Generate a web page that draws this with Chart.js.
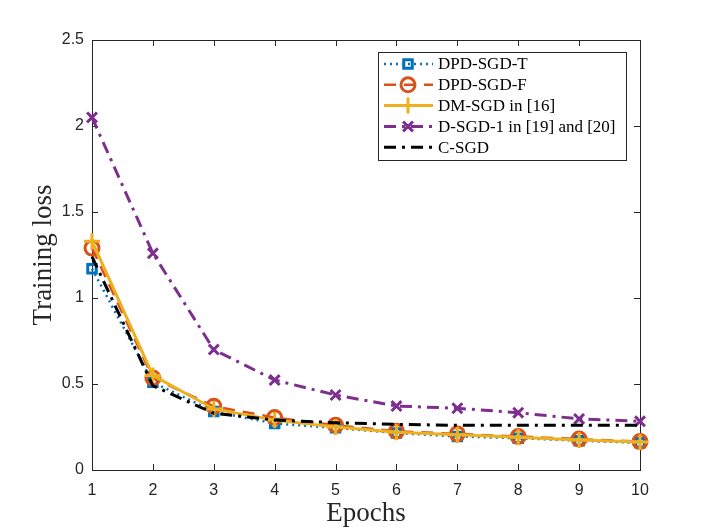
<!DOCTYPE html>
<html lang="en">
<head>
    <meta charset="UTF-8">
    <title>Training loss vs Epochs</title>
    <script src="https://cdn.jsdelivr.net/npm/chart.js"></script>
    <style>
        body {
            margin: 0;
            background: #fff;
        }
        canvas {
            display: block;
        }
    </style>
</head>
<body>
    <canvas id="chart" width="706" height="530"></canvas>
    <script>
        // data
        const epochs = [1, 2, 3, 4, 5, 6, 7, 8, 9, 10];
        const dpdT = [1.17, 0.51, 0.34, 0.27, 0.245, 0.215, 0.195, 0.185, 0.17, 0.158];
        const dpdF = [1.29, 0.535, 0.37, 0.305, 0.26, 0.225, 0.21, 0.195, 0.18, 0.165];
        const dmSgd = [1.33, 0.55, 0.355, 0.29, 0.25, 0.22, 0.205, 0.19, 0.175, 0.163];
        const dSgd1 = [2.05, 1.26, 0.70, 0.523, 0.436, 0.372, 0.359, 0.333, 0.297, 0.283];
        const cSgd = [1.24, 0.49, 0.33, 0.29, 0.275, 0.265, 0.26, 0.26, 0.26, 0.26];
        const yTicks = [0, 0.5, 1, 1.5, 2, 2.5];
        const names = ["DPD-SGD-T", "DPD-SGD-F", "DM-SGD in [16]", "D-SGD-1 in [19] and [20]", "C-SGD"];

        const pts = (ys) => ys.map((y, i) => ({ x: epochs[i], y: y }));
        const sans = "'Liberation Sans', Arial, sans-serif";
        const serif = "'Liberation Serif', 'DejaVu Serif', serif";

        const datasets = [
            {
                label: names[0], data: pts(dpdT), borderColor: "#0072BD", borderWidth: 2.5,
                borderDash: [2, 4], pointStyle: "rect", pointRadius: 6, pointBorderWidth: 3,
                pointBackgroundColor: "rgba(0,0,0,0)", pointBorderColor: "#0072BD", order: 5
            },
            {
                label: names[1], data: pts(dpdF), borderColor: "#D95319", borderWidth: 2.5,
                borderDash: [12, 8], pointStyle: "circle", pointRadius: 7, pointBorderWidth: 3,
                pointBackgroundColor: "rgba(0,0,0,0)", pointBorderColor: "#D95319", order: 4
            },
            {
                label: names[2], data: pts(dmSgd), borderColor: "#EDB120", borderWidth: 3,
                pointStyle: "cross", pointRadius: 8, pointBorderWidth: 3,
                pointBorderColor: "#EDB120", order: 3
            },
            {
                label: names[3], data: pts(dSgd1), borderColor: "#7E2F8E", borderWidth: 3,
                borderDash: [12, 6, 3, 6], pointStyle: "crossRot", pointRadius: 7, pointBorderWidth: 3,
                pointBorderColor: "#7E2F8E", order: 2
            },
            {
                label: names[4], data: pts(cSgd), borderColor: "#000000", borderWidth: 3,
                borderDash: [12, 6, 3, 6], pointRadius: 0, order: 1
            }
        ];
        datasets.forEach((ds) => { ds.clip = false; });

        // MATLAB-like box, inward ticks and the legend
        const matlabAxes = {
            id: "matlabAxes",
            beforeDatasetsDraw(chart) {
                const ctx = chart.ctx;
                const a = chart.chartArea;
                const xs = chart.scales.x;
                const ys = chart.scales.y;
                ctx.save();
                ctx.strokeStyle = "#262626";
                ctx.lineWidth = 1;
                ctx.strokeRect(a.left + 0.5, a.top + 0.5, a.right - a.left, a.bottom - a.top);
                ctx.beginPath();
                epochs.forEach((e) => {
                    const px = Math.round(xs.getPixelForValue(e)) + 0.5;
                    ctx.moveTo(px, a.bottom); ctx.lineTo(px, a.bottom - 6);
                    ctx.moveTo(px, a.top); ctx.lineTo(px, a.top + 6);
                });
                yTicks.forEach((t) => {
                    const py = Math.round(ys.getPixelForValue(t)) + 0.5;
                    ctx.moveTo(a.left, py); ctx.lineTo(a.left + 6, py);
                    ctx.moveTo(a.right, py); ctx.lineTo(a.right - 6, py);
                });
                ctx.stroke();
                ctx.restore();
            },
            afterDatasetsDraw(chart) {
                const ctx = chart.ctx;
                ctx.save();
                // legend
                const bx = 378, by = 52, bw = 248, bh = 108;
                ctx.fillStyle = "#fff";
                ctx.fillRect(bx, by, bw, bh);
                ctx.strokeStyle = "#262626";
                ctx.lineWidth = 1;
                ctx.strokeRect(bx + 0.5, by + 0.5, bw, bh);
                ctx.font = "17px " + serif;
                ctx.textBaseline = "middle";
                datasets.forEach((ds, i) => {
                    const cy = by + 12 + i * 20.8;
                    ctx.strokeStyle = ds.borderColor;
                    ctx.lineWidth = ds.borderWidth;
                    ctx.setLineDash(ds.borderDash || []);
                    ctx.beginPath();
                    ctx.moveTo(384, cy);
                    ctx.lineTo(433, cy);
                    ctx.stroke();
                    ctx.setLineDash([]);
                    if (ds.pointRadius > 0) {
                        ctx.strokeStyle = ds.pointBorderColor;
                        ctx.fillStyle = "rgba(0,0,0,0)";
                        ctx.lineWidth = ds.pointBorderWidth;
                        Chart.helpers.drawPoint(ctx, {
                            pointStyle: ds.pointStyle, radius: ds.pointRadius, rotation: 0,
                            borderWidth: ds.pointBorderWidth
                        }, 408, cy);
                    }
                    ctx.fillStyle = "#000";
                    ctx.fillText(ds.label, 438, cy + 1);
                });
                ctx.restore();
            }
        };

        new Chart(document.getElementById("chart").getContext("2d"), {
            type: "line",
            data: { datasets: datasets },
            plugins: [matlabAxes],
            options: {
                responsive: false,
                animation: false,
                layout: { padding: { left: 24, right: 66, top: 40, bottom: 0 } },
                plugins: {
                    legend: { display: false },
                    tooltip: { enabled: false }
                },
                elements: { line: { tension: 0 } },
                scales: {
                    x: {
                        type: "linear",
                        min: 1,
                        max: 10,
                        afterFit: (s) => { s.height = 60; },
                        afterBuildTicks: (s) => { s.ticks = epochs.map((v) => ({ value: v })); },
                        grid: { display: false },
                        border: { display: false },
                        ticks: { color: "#262626", font: { family: sans, size: 16 }, padding: 3 },
                        title: { display: true, text: "Epochs", color: "#262626", font: { family: serif, size: 27 }, padding: { top: 0, bottom: 0 } }
                    },
                    y: {
                        min: 0,
                        max: 2.5,
                        afterFit: (s) => { s.width = 68; },
                        afterBuildTicks: (s) => { s.ticks = yTicks.map((v) => ({ value: v })); },
                        grid: { display: false },
                        border: { display: false },
                        ticks: {
                            color: "#262626", font: { family: sans, size: 16 }, padding: 0,
                            callback: (v) => String(v)
                        },
                        title: { display: true, text: "Training loss", color: "#262626", font: { family: serif, size: 27 }, padding: { bottom: 0 } }
                    }
                }
            }
        });
    </script>
</body>
</html>
